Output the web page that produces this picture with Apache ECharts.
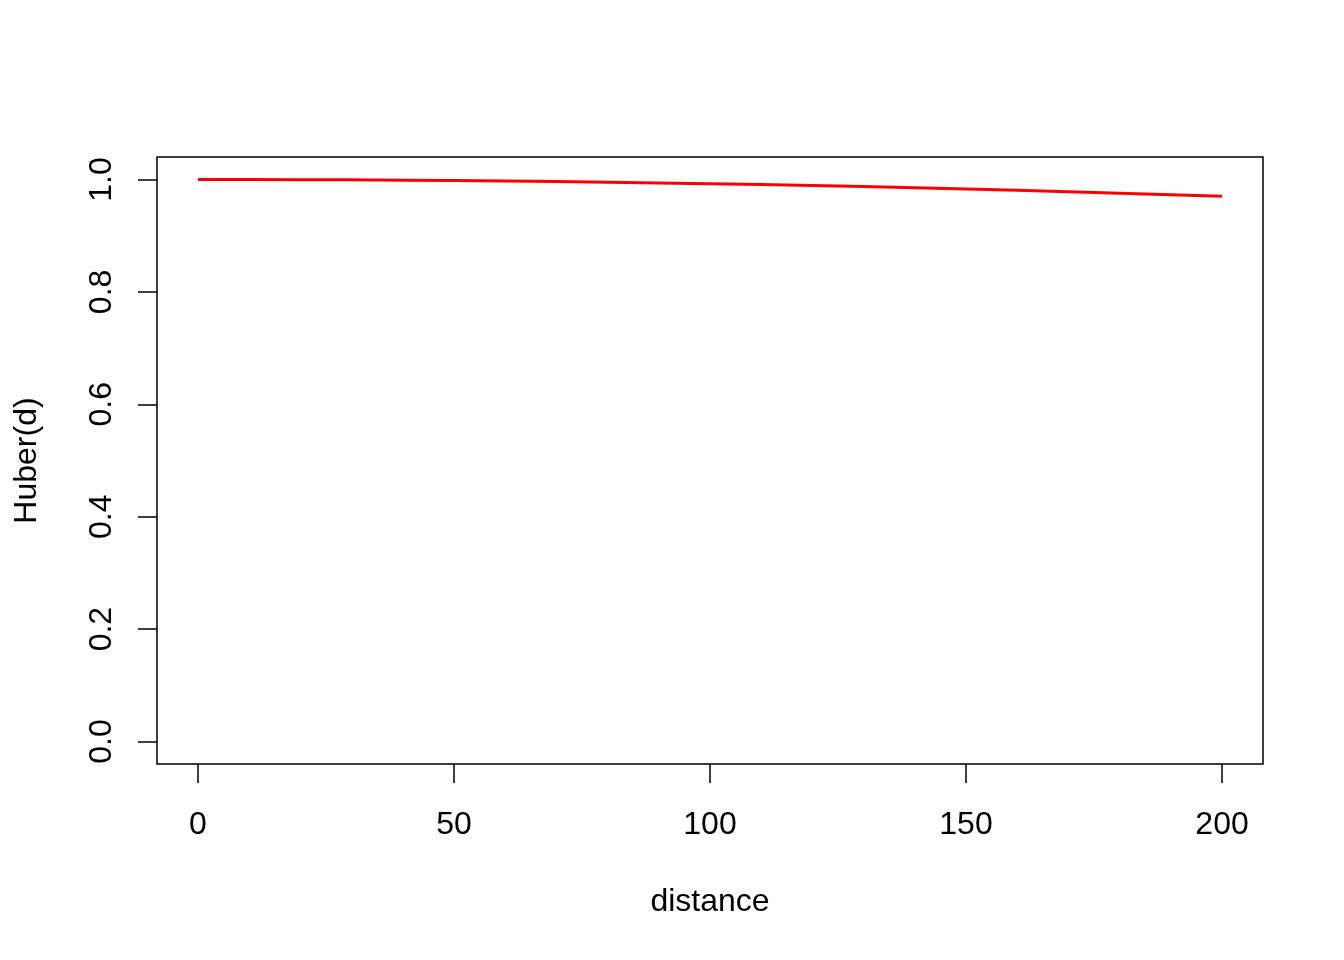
<!DOCTYPE html>
<html>
<head>
<meta charset="utf-8">
<script src="https://cdn.jsdelivr.net/npm/echarts@6/dist/echarts.min.js"></script>
<style>html,body{margin:0;padding:0;background:#fff}#c{width:1344px;height:960px}</style>
</head>
<body>
<div id="c"></div>
<script>
const distance = [0,10,20,30,40,50,60,70,80,90,100,110,120,130,140,150,160,170,180,190,200];
const huber = [1.000,0.9999,0.9997,0.9993,0.9988,0.9981,0.9973,0.9963,0.9952,0.9939,0.9925,0.9909,0.9892,0.9873,0.9853,0.9831,0.9808,0.9783,0.9757,0.9729,0.9700];
const xTicks = [0,50,100,150,200];
const yTicks = [0,0.2,0.4,0.6,0.8,1.0];

const chart = echarts.init(document.getElementById('c'));
const font = 'Liberation Sans, Arial, sans-serif';
chart.setOption({
  animation: false,
  backgroundColor: '#fff',
  grid: {left:157, right:81, top:157, bottom:196, show:true, borderColor:'#000', borderWidth:1.5, backgroundColor:'transparent'},
  xAxis: {
    type:'value', min:-8, max:208,
    name:'distance', nameLocation:'middle', nameGap:122,
    nameTextStyle:{fontFamily:font, fontSize:32, color:'#000'},
    axisLine:{show:false, onZero:false},
    splitLine:{show:false},
    axisTick:{show:true, inside:false, length:19, lineStyle:{color:'#000', width:1.5}, customValues:xTicks},
    axisLabel:{margin:45, fontFamily:font, fontSize:32, color:'#000', customValues:xTicks, formatter:v=>String(v)}
  },
  yAxis: {
    type:'value', min:-0.04, max:1.04,
    name:'Huber(d)', nameLocation:'middle', nameGap:114,
    nameTextStyle:{fontFamily:font, fontSize:32, color:'#000'},
    axisLine:{show:false, onZero:false},
    splitLine:{show:false},
    axisTick:{show:true, inside:false, length:19, lineStyle:{color:'#000', width:1.5}, customValues:yTicks},
    axisLabel:{margin:39, rotate:90, fontFamily:font, fontSize:32, color:'#000', customValues:yTicks, formatter:v=>v.toFixed(1)}
  },
  series: [{
    type:'line', data: distance.map((d,i)=>[d,huber[i]]),
    showSymbol:false, smooth:false,
    lineStyle:{color:'#ff0000', width:3}
  }]
});
</script>
</body>
</html>
